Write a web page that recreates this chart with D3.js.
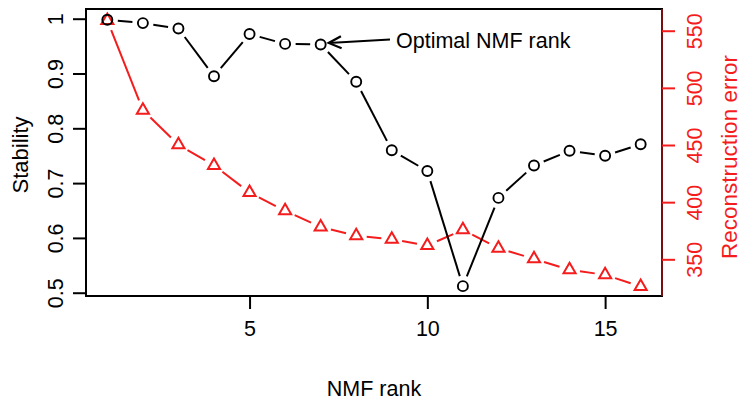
<!DOCTYPE html>
<html>
<head>
<meta charset="utf-8">
<script src="https://cdnjs.cloudflare.com/ajax/libs/d3/7.8.5/d3.min.js"></script>
<style>
  html, body { margin: 0; padding: 0; background: #fff; }
  svg { display: block; }
</style>
</head>
<body>
<div id="graph"></div>
<script>
var ranks = [1, 2, 3, 4, 5, 6, 7, 8, 9, 10, 11, 12, 13, 14, 15, 16];
var stability = [0.998, 0.992, 0.982, 0.895, 0.972, 0.954, 0.953, 0.885, 0.760, 0.722, 0.512, 0.673, 0.732, 0.759, 0.750, 0.771];
var reconError = [559, 480.5, 450.2, 432.1, 408.5, 392.4, 378.3, 370.6, 367.6, 362.1, 375.8, 359.7, 350.4, 340.8, 336.4, 326.2];
var xTicks = [5, 10, 15];
var stabTicks = [0.5, 0.6, 0.7, 0.8, 0.9, 1];
var errTicks = [350, 400, 450, 500, 550];
var optimalRank = 7;

var width = 741, height = 408;
var fontFamily = "'Liberation Sans', Arial, Helvetica, sans-serif",
    fontSize = 21.5;
var red = "#f41c1c";

var svg = d3.select("#graph").append("svg")
    .attr("width", width)
    .attr("height", height);

var box = { left: 86, right: 662, top: 9, bottom: 296 };

var x = d3.scaleLinear().domain([0.4, 16.6]).range([box.left, box.right]);
var yL = d3.scaleLinear().domain([0.494, 1.0177]).range([box.bottom, box.top]);
var yR = d3.scaleLinear().domain([317.9, 569.0]).range([box.bottom, box.top]);

// segments with gaps around the points (like R type="b")
function gappedSegments(xs, ys, gap) {
  var segs = [];
  for (var i = 0; i < xs.length - 1; i++) {
    var x1 = xs[i], y1 = ys[i], x2 = xs[i + 1], y2 = ys[i + 1];
    var dx = x2 - x1, dy = y2 - y1, len = Math.sqrt(dx * dx + dy * dy);
    if (len <= 2 * gap) continue;
    var ux = dx / len, uy = dy / len;
    segs.push({ x1: x1 + ux * gap, y1: y1 + uy * gap, x2: x2 - ux * gap, y2: y2 - uy * gap });
  }
  return segs;
}

var px = ranks.map(function(d) { return x(d); });

// RECONSTRUCTION ERROR (red)
var errSegs = gappedSegments(px, reconError.map(function(d) { return yR(d); }), 10.5);
svg.append("g").selectAll("line")
  .data(errSegs)
  .enter().append("line")
    .attr("x1", function(d) { return d.x1; })
    .attr("y1", function(d) { return d.y1; })
    .attr("x2", function(d) { return d.x2; })
    .attr("y2", function(d) { return d.y2; })
    .style("stroke", red)
    .style("stroke-width", 2);

var triR = 7;
svg.append("g").selectAll("path")
  .data(ranks)
  .enter().append("path")
    .attr("d", function(d, i) {
      var cx = x(d), cy = yR(reconError[i]);
      var hx = triR * Math.sqrt(3) / 2, hy = triR / 2;
      return "M" + cx + "," + (cy - triR) + "L" + (cx + hx) + "," + (cy + hy) + "L" + (cx - hx) + "," + (cy + hy) + "Z";
    })
    .attr("fill", "none")
    .attr("stroke", red)
    .attr("stroke-width", 2);

// STABILITY (black)
var stabSegs = gappedSegments(px, stability.map(function(d) { return yL(d); }), 10.5);
svg.append("g").selectAll("line")
  .data(stabSegs)
  .enter().append("line")
    .attr("x1", function(d) { return d.x1; })
    .attr("y1", function(d) { return d.y1; })
    .attr("x2", function(d) { return d.x2; })
    .attr("y2", function(d) { return d.y2; })
    .style("stroke", "#000")
    .style("stroke-width", 2);

svg.append("g").selectAll("circle")
  .data(ranks)
  .enter().append("circle")
    .attr("cx", function(d) { return x(d); })
    .attr("cy", function(d, i) { return yL(stability[i]); })
    .attr("r", 5)
    .attr("fill", "none")
    .attr("stroke", "#000")
    .attr("stroke-width", 1.9);

// BOX
svg.append("rect")
  .attr("x", box.left)
  .attr("y", box.top)
  .attr("width", box.right - box.left)
  .attr("height", box.bottom - box.top)
  .attr("fill", "none")
  .attr("stroke", "#000")
  .attr("stroke-width", 2);

// AXES
var xAxis = d3.axisBottom(x).tickValues(xTicks).tickSize(13).tickPadding(12).tickFormat(d3.format("d"));
var gx = svg.append("g").attr("transform", "translate(0," + box.bottom + ")").call(xAxis);
gx.select(".domain").remove();

var yAxisL = d3.axisLeft(yL).tickValues(stabTicks).tickSize(13).tickFormat(function(d) { return d3.format("")(d); });
var gl = svg.append("g").attr("transform", "translate(" + box.left + ",0)").call(yAxisL);
gl.select(".domain").remove();
gl.selectAll(".tick text")
  .attr("x", null).attr("dy", null)
  .attr("text-anchor", "middle")
  .attr("transform", "translate(-23.5,0) rotate(-90)");

var yAxisR = d3.axisRight(yR).tickValues(errTicks).tickSize(13);
var gr = svg.append("g").attr("transform", "translate(" + box.right + ",0)").call(yAxisR);
gr.select(".domain")
  .attr("d", "M0," + box.top + "V" + box.bottom)
  .attr("stroke", red);
gr.selectAll(".tick line").attr("stroke", red);
gr.selectAll(".tick text")
  .attr("x", null).attr("dy", null)
  .attr("fill", red)
  .attr("text-anchor", "middle")
  .attr("transform", "translate(40,0) rotate(-90)");

[gx, gl, gr].forEach(function(g) {
  g.selectAll(".tick line").attr("stroke-width", 2);
  g.selectAll("text")
    .attr("font-family", fontFamily)
    .attr("font-size", fontSize);
  g.attr("font-family", fontFamily).attr("font-size", fontSize);
});
gl.selectAll(".tick line").attr("stroke", "#000");
gx.selectAll(".tick line").attr("stroke", "#000");
gx.selectAll(".tick text").attr("fill", "#000");
gl.selectAll(".tick text").attr("fill", "#000");

// AXIS TITLES
svg.append("text")
  .text("NMF rank")
  .attr("x", (box.left + box.right) / 2)
  .attr("y", 395.5)
  .attr("text-anchor", "middle")
  .attr("font-family", fontFamily)
  .attr("font-size", fontSize);

svg.append("text")
  .text("Stability")
  .attr("transform", "translate(27.5,155) rotate(-90)")
  .attr("text-anchor", "middle")
  .attr("font-family", fontFamily)
  .attr("font-size", 22);

svg.append("text")
  .text("Reconstruction error")
  .attr("transform", "translate(737,157) rotate(-90)")
  .attr("text-anchor", "middle")
  .attr("fill", red)
  .attr("font-family", fontFamily)
  .attr("font-size", 22.5);

// ANNOTATION
var tipX = x(optimalRank) + 8, tipY = yL(stability[optimalRank - 1]) - 1.5;
var startX = 390, startY = 39.5;
var ang = Math.atan2(tipY - startY, tipX - startX);
var headLen = 14, headAng = Math.PI / 7;
svg.append("line")
  .attr("x1", startX).attr("y1", startY)
  .attr("x2", tipX).attr("y2", tipY)
  .style("stroke", "#000")
  .style("stroke-width", 2);
svg.append("path")
  .attr("d", "M" + (tipX - headLen * Math.cos(ang - headAng)) + "," + (tipY - headLen * Math.sin(ang - headAng)) +
             "L" + tipX + "," + tipY +
             "L" + (tipX - headLen * Math.cos(ang + headAng)) + "," + (tipY - headLen * Math.sin(ang + headAng)))
  .attr("fill", "none")
  .attr("stroke", "#000")
  .attr("stroke-width", 2.2);

svg.append("text")
  .text("Optimal NMF rank")
  .attr("x", 396)
  .attr("y", 47.5)
  .attr("font-family", fontFamily)
  .attr("font-size", fontSize);
</script>
</body>
</html>
